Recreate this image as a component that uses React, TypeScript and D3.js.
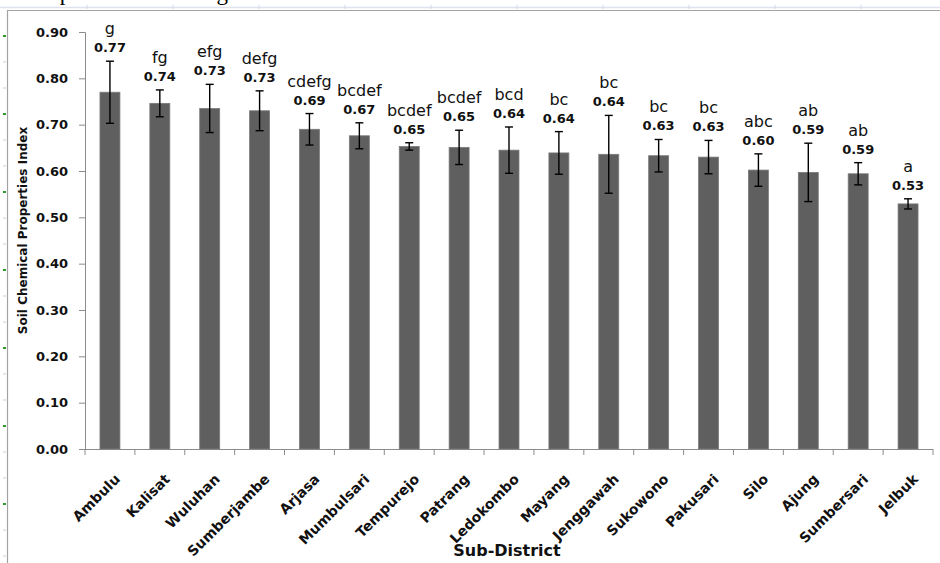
import React, { useRef, useEffect } from 'react';
import * as d3 from 'd3';

const categories = ['Ambulu', 'Kalisat', 'Wuluhan', 'Sumberjambe', 'Arjasa', 'Mumbulsari', 'Tempurejo', 'Patrang', 'Ledokombo', 'Mayang', 'Jenggawah', 'Sukowono', 'Pakusari', 'Silo', 'Ajung', 'Sumbersari', 'Jelbuk'];
const means = [0.770, 0.746, 0.735, 0.730, 0.690, 0.676, 0.653, 0.651, 0.645, 0.639, 0.636, 0.633, 0.630, 0.602, 0.597, 0.594, 0.529];
const errors = [0.067, 0.029, 0.052, 0.043, 0.034, 0.028, 0.008, 0.037, 0.050, 0.046, 0.084, 0.035, 0.036, 0.035, 0.063, 0.024, 0.011];
const valueLabels = ['0.77', '0.74', '0.73', '0.73', '0.69', '0.67', '0.65', '0.65', '0.64', '0.64', '0.64', '0.63', '0.63', '0.60', '0.59', '0.59', '0.53'];
const letters = ['g', 'fg', 'efg', 'defg', 'cdefg', 'bcdef', 'bcdef', 'bcdef', 'bcd', 'bc', 'bc', 'bc', 'bc', 'abc', 'ab', 'ab', 'a'];
const yTicks = [0, 0.1, 0.2, 0.3, 0.4, 0.5, 0.6, 0.7, 0.8, 0.9];

const W = 940;
const H = 563;
const FONT = '"DejaVu Sans", Verdana, sans-serif';

const App = () => {
    const ref = useRef<SVGSVGElement>(null);

    useEffect(() => {
        const svg = d3.select(ref.current);
        svg.selectAll('*').remove();

        const left = 85, right = 933, top = 32, bottom = 449;

        const x = d3.scaleBand()
            .domain(categories)
            .range([left, right])
            .paddingInner(0.6)
            .paddingOuter(0.3);

        const y = d3.scaleLinear()
            .domain([0, 0.9])
            .range([bottom, top]);

        // page remnants: cut-off line of text and the frame of the embedded chart
        svg.append('text')
            .attr('x', 16).attr('y', 0)
            .attr('font-family', '"Liberation Serif", serif')
            .attr('font-size', 23)
            .attr('word-spacing', 10)
            .attr('fill', '#000')
            .text('ual presented in Figure 4.');

        svg.append('line')
            .attr('x1', 0).attr('x2', W).attr('y1', 7.5).attr('y2', 7.5)
            .attr('stroke', '#dde2ee').attr('stroke-width', 1.5);
        svg.selectAll('.rulerTop').data(d3.range(87, W, 86)).enter().append('line')
            .attr('x1', d => d).attr('x2', d => d).attr('y1', 5).attr('y2', 9)
            .attr('stroke', '#d3d8e6');
        svg.selectAll('.rulerLeft').data(d3.range(36, H, 26)).enter().append('line')
            .attr('x1', 3).attr('x2', 6).attr('y1', d => d).attr('y2', d => d)
            .attr('stroke', (d, i) => i % 3 === 0 ? '#2e9a2e' : '#c9cfdd')
            .attr('stroke-width', (d, i) => i % 3 === 0 ? 2 : 1);
        svg.append('path')
            .attr('d', `M7.5,${H} V10.5 H${W}`)
            .attr('fill', 'none')
            .attr('stroke', '#a3a3a3')
            .attr('stroke-width', 1.2);

        // y axis
        const yAxis = svg.append('g')
            .attr('transform', `translate(${left},0)`)
            .call(d3.axisLeft(y).tickValues(yTicks).tickFormat(d3.format('.2f')).tickSize(6).tickPadding(11));
        yAxis.select('.domain').attr('stroke', '#8c8c8c');
        yAxis.selectAll('.tick line').attr('stroke', '#8c8c8c');
        yAxis.selectAll('.tick text')
            .attr('font-family', FONT)
            .attr('font-size', 13)
            .attr('font-weight', 'bold')
            .attr('fill', '#111');

        // x axis with ticks on category boundaries
        svg.append('line')
            .attr('x1', left).attr('x2', right).attr('y1', bottom + 0.5).attr('y2', bottom + 0.5)
            .attr('stroke', '#8c8c8c');
        svg.selectAll('.xTick').data(d3.range(categories.length + 1)).enter().append('line')
            .attr('x1', i => left + i * x.step()).attr('x2', i => left + i * x.step())
            .attr('y1', bottom).attr('y2', bottom + 6)
            .attr('stroke', '#8c8c8c');

        svg.selectAll('.xLabel').data(categories).enter().append('text')
            .attr('transform', d => `translate(${(x(d) as number) + x.bandwidth() / 2 + 11},${bottom + 31}) rotate(-45)`)
            .attr('text-anchor', 'end')
            .attr('font-family', FONT)
            .attr('font-size', 14)
            .attr('font-weight', 'bold')
            .attr('fill', '#111')
            .text(d => d);

        // bars
        svg.append('g').selectAll('rect').data(categories).enter().append('rect')
            .attr('x', d => x(d) as number)
            .attr('y', (d, i) => y(means[i]))
            .attr('width', x.bandwidth())
            .attr('height', (d, i) => y(0) - y(means[i]))
            .attr('fill', '#5f5f5f')
            .attr('stroke', '#7a7a7a')
            .attr('stroke-width', 0.8);

        // error bars
        const err = svg.append('g').selectAll('g').data(categories).enter().append('g')
            .attr('stroke', '#000')
            .attr('stroke-width', 1.4);
        const cx = (d: string) => (x(d) as number) + x.bandwidth() / 2;
        err.append('line')
            .attr('x1', cx).attr('x2', cx)
            .attr('y1', (d, i) => y(means[i] + errors[i]))
            .attr('y2', (d, i) => y(means[i] - errors[i]));
        err.append('line')
            .attr('x1', d => cx(d) - 4).attr('x2', d => cx(d) + 4)
            .attr('y1', (d, i) => y(means[i] + errors[i]))
            .attr('y2', (d, i) => y(means[i] + errors[i]));
        err.append('line')
            .attr('x1', d => cx(d) - 4).attr('x2', d => cx(d) + 4)
            .attr('y1', (d, i) => y(means[i] - errors[i]))
            .attr('y2', (d, i) => y(means[i] - errors[i]));

        // value and letter labels above each bar
        svg.selectAll('.valLabel').data(categories).enter().append('text')
            .attr('x', cx)
            .attr('y', (d, i) => y(means[i] + errors[i]) - 9)
            .attr('text-anchor', 'middle')
            .attr('font-family', FONT)
            .attr('font-size', 13)
            .attr('font-weight', 'bold')
            .attr('fill', '#111')
            .text((d, i) => valueLabels[i]);

        svg.selectAll('.letterLabel').data(categories).enter().append('text')
            .attr('x', cx)
            .attr('y', (d, i) => y(means[i] + errors[i]) - 27)
            .attr('text-anchor', 'middle')
            .attr('font-family', FONT)
            .attr('font-size', 16)
            .attr('fill', '#111')
            .text((d, i) => letters[i]);

        // axis titles
        svg.append('text')
            .attr('transform', `translate(27,${(top + bottom) / 2 - 10}) rotate(-90)`)
            .attr('text-anchor', 'middle')
            .attr('font-family', FONT)
            .attr('font-size', 12)
            .attr('font-weight', 'bold')
            .attr('fill', '#111')
            .text('Soil Chemical Properties Index');

        svg.append('text')
            .attr('x', (left + right) / 2 - 2)
            .attr('y', 556)
            .attr('text-anchor', 'middle')
            .attr('font-family', FONT)
            .attr('font-size', 16)
            .attr('font-weight', 'bold')
            .attr('fill', '#111')
            .text('Sub-District');
    }, []);

    return (
        <svg ref={ref} width={W} height={H}
            style={{ position: 'absolute', left: 0, top: 0, background: '#fff' }} />
    );
};

export default App;
